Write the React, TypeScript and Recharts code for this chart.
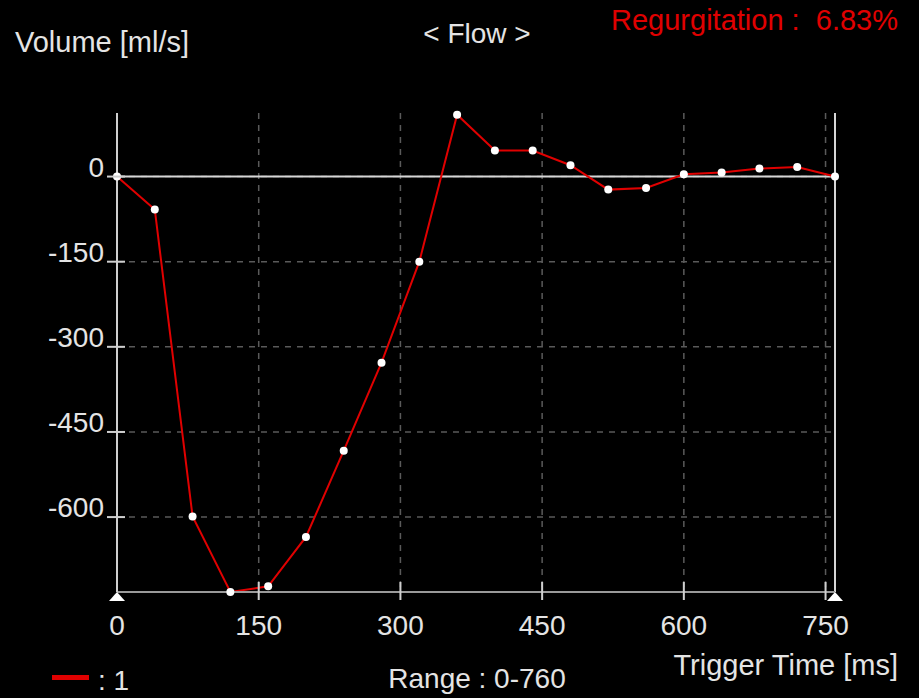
import React from "react";
import {
  LineChart,
  Line,
  XAxis,
  YAxis,
  CartesianGrid,
  ReferenceLine,
  ReferenceDot,
} from "recharts";

const times = [0, 40, 80, 120, 160, 200, 240, 280, 320, 360, 400, 440, 480, 520, 560, 600, 640, 680, 720, 760];
const flow = [0, -58, -599, -732, -722, -635, -483, -328, -150, 109, 46, 46, 20, -23, -20, 4, 7, 14, 17, 0];
const xTicks = [0, 150, 300, 450, 600, 750];
const yTicks = [0, -150, -300, -450, -600];

const data = times.map((t, i) => ({ t, v: flow[i] }));

const FONT = "'Liberation Sans', Arial, sans-serif";
const TEXT = "#e4e4e4";
const RED = "#e00000";

const YTick = (props: any) => {
  const { x, y, payload } = props;
  return (
    <g>
      <line x1={x - 10} x2={x + 8} y1={y} y2={y} stroke="#cfcfcf" strokeWidth={2} />
      <text x={x - 13} y={y} textAnchor="end" fill={TEXT} fontSize={28} fontFamily={FONT}>
        {payload.value}
      </text>
    </g>
  );
};

const XTick = (props: any) => {
  const { x, y, payload } = props;
  return (
    <g>
      {payload.value !== 0 && (
        <line x1={x} x2={x} y1={y - 10} y2={y + 8} stroke="#cfcfcf" strokeWidth={2} />
      )}
      <text x={x} y={y + 43} textAnchor="middle" fill={TEXT} fontSize={28} fontFamily={FONT}>
        {payload.value}
      </text>
    </g>
  );
};

const Triangle = (props: any) => {
  const { cx, cy } = props;
  return <polygon points={`${cx},${cy} ${cx - 8},${cy + 9} ${cx + 8},${cy + 9}`} fill="#ffffff" />;
};

export default function App() {
  return (
    <div
      style={{
        position: "fixed",
        left: 0,
        top: 0,
        width: 919,
        height: 698,
        background: "#000",
      }}
    >
      <LineChart
        width={919}
        height={698}
        data={data}
        margin={{ top: 113, right: 84, left: 17, bottom: 56 }}
      >
        <CartesianGrid
          stroke="#5a5a5a"
          strokeDasharray="6 6"
          strokeWidth={1.5}
          horizontalValues={yTicks}
          verticalValues={xTicks}
        />
        <XAxis
          dataKey="t"
          type="number"
          domain={[0, 760]}
          ticks={xTicks}
          height={50}
          tickSize={0}
          tickMargin={0}
          tickLine={false}
          axisLine={{ stroke: "#9a9a9a", strokeWidth: 2 }}
          tick={XTick}
          interval={0}
        />
        <YAxis
          type="number"
          domain={[-732, 112]}
          ticks={yTicks}
          width={100}
          tickSize={0}
          tickMargin={0}
          tickLine={false}
          axisLine={{ stroke: "#cfcfcf", strokeWidth: 2 }}
          tick={YTick}
          interval={0}
        />
        <ReferenceLine y={0} stroke="#d6d6d6" strokeWidth={2} />
        <ReferenceLine x={760} stroke="#d6d6d6" strokeWidth={2} />
        <Line
          type="linear"
          dataKey="v"
          stroke={RED}
          strokeWidth={2}
          dot={{ r: 4, fill: "#ffffff", stroke: "none" }}
          isAnimationActive={false}
        />
        <ReferenceDot x={0} y={-732} shape={Triangle} ifOverflow="visible" />
        <ReferenceDot x={760} y={-732} shape={Triangle} ifOverflow="visible" />
      </LineChart>
      <svg
        width={919}
        height={698}
        style={{ position: "absolute", left: 0, top: 0, pointerEvents: "none" }}
      >
        <g fontFamily={FONT}>
          <text x={15} y={52} fill={TEXT} fontSize={29}>Volume [ml/s]</text>
          <text x={477} y={43} fill={TEXT} fontSize={28} textAnchor="middle">{"< Flow >"}</text>
          <text x={898} y={30} fill={RED} fontSize={29} textAnchor="end" xmlSpace="preserve">
            {"Regurgitation :  6.83%"}
          </text>
          <text x={898} y={675} fill={TEXT} fontSize={29} textAnchor="end">Trigger Time [ms]</text>
          <text x={477} y={688} fill={TEXT} fontSize={28} textAnchor="middle">Range : 0-760</text>
          <line x1={52} x2={89} y1={677.5} y2={677.5} stroke={RED} strokeWidth={5} />
          <text x={98} y={690} fill={TEXT} fontSize={28}>: 1</text>
        </g>
      </svg>
    </div>
  );
}
